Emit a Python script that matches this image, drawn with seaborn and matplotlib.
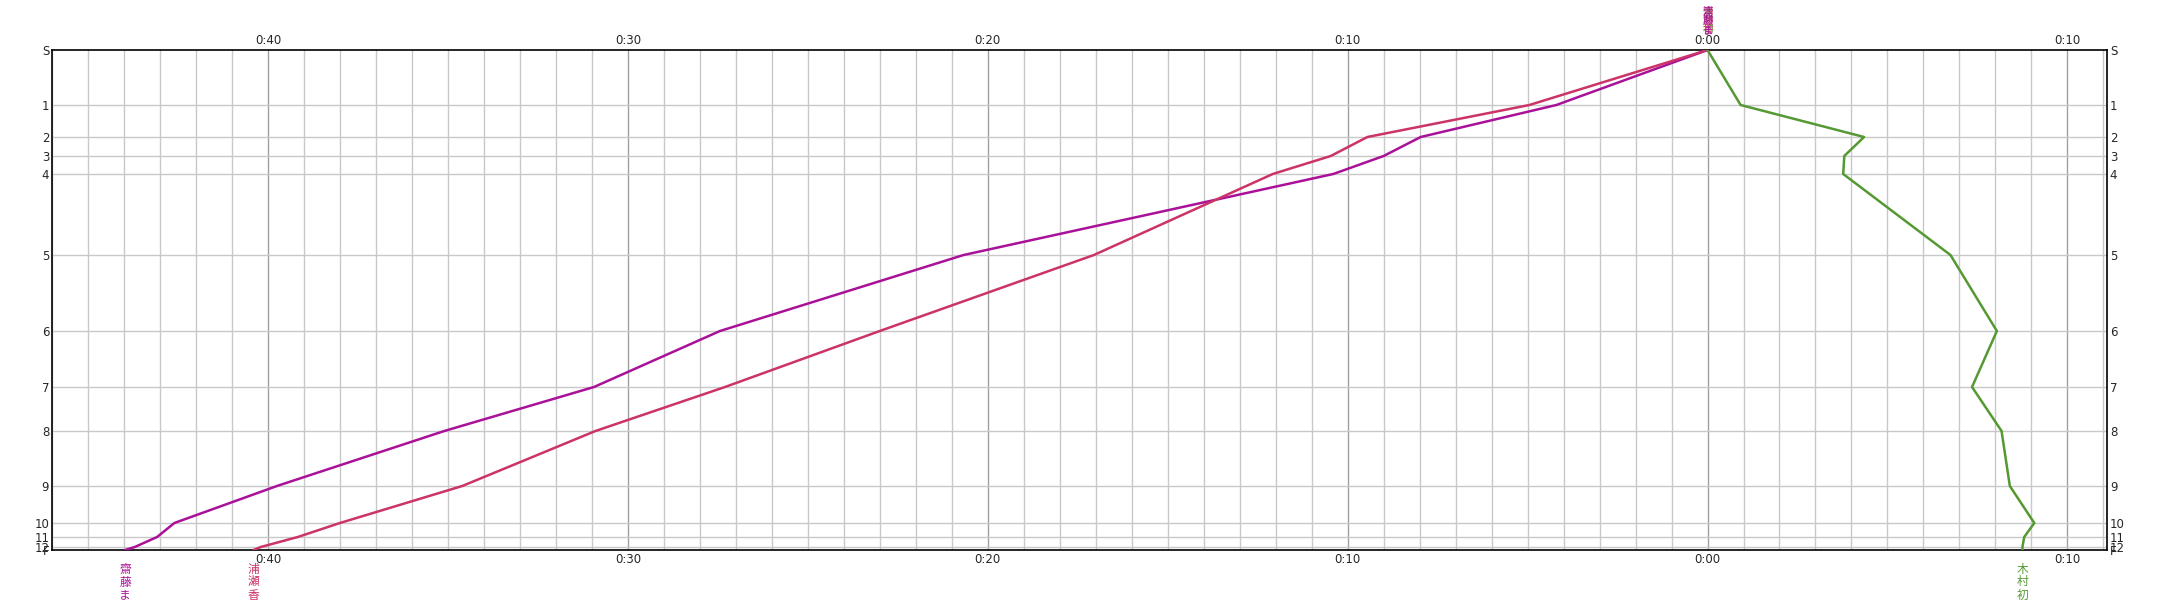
import matplotlib
matplotlib.use("Agg")
import matplotlib.pyplot as plt
import seaborn as sns
import pandas as pd
from matplotlib.ticker import FixedLocator, FuncFormatter

# course: stations and their position along the course (top = start)
stations = ["S", "1", "2", "3", "4", "5", "6", "7", "8", "9", "10", "11", "12", "F"]
station_pos = [0, 55, 87, 106, 124, 205, 281, 337, 381, 436, 473, 487, 497, 500]

runners = ["齋藤ま", "浦瀬香", "木村初"]
colors = ["#aa1199", "#cc3366", "#559933"]

# time difference in minutes at each station (negative = behind)
saito = [0, -4.2, -7.97, -9.0, -10.4, -20.67, -27.44, -30.94, -35.1, -39.75,
         -42.6, -43.08, -43.7, -43.97]
urase = [0, -4.95, -9.45, -10.47, -12.08, -17.05, -23.0, -27.3, -30.9, -34.6,
         -38.0, -39.17, -40.2, -40.4]
kimura = [0, 0.92, 4.35, 3.8, 3.77, 6.75, 8.04, 7.35, 8.17, 8.4,
          9.08, 8.8, 8.75, 8.75]

rows = []
for name, diffs in zip(runners, [saito, urase, kimura]):
    for st, pos, d in zip(stations, station_pos, diffs):
        rows.append({"runner": name, "station": st, "pos": pos, "diff": d})
df = pd.DataFrame(rows)

sns.set_style("white")
plt.rcParams["font.family"] = ["Noto Sans CJK JP", "DejaVu Sans"]

fig = plt.figure(figsize=(21.59, 6.0), dpi=100)
ax = fig.add_axes([52 / 2159, 50 / 600, 2055 / 2159, 500 / 600])

xmin, xmax = -46, 11.1
major = [-40, -30, -20, -10, 0, 10]
minor = [m for m in range(-46, 12) if m % 10 != 0]

# grid first so lines sit on top
for m in minor:
    ax.axvline(m, color="#c8c8c8", lw=1.0, zorder=0)
for m in major:
    ax.axvline(m, color="#a0a0a0", lw=1.0, zorder=0)
for p in station_pos[1:-1]:
    ax.axhline(p, color="#c8c8c8", lw=1.0, zorder=0)

sns.lineplot(data=df, x="diff", y="pos", hue="runner", palette=dict(zip(runners, colors)),
             sort=False, estimator=None, legend=False, linewidth=1.8, ax=ax, zorder=3)

ax.set_xlim(xmin, xmax)
ax.set_ylim(500, 0)
ax.set_xlabel("")
ax.set_ylabel("")

ax.xaxis.set_major_locator(FixedLocator(major))
ax.xaxis.set_major_formatter(FuncFormatter(lambda v, p: "0:%02d" % abs(round(v))))
ax.yaxis.set_major_locator(FixedLocator(station_pos))
ax.set_yticklabels(stations)

ax.tick_params(axis="x", which="both", top=True, bottom=True, labeltop=True,
               labelbottom=True, length=0, pad=2, labelsize=8.5)
ax.tick_params(axis="y", which="both", left=False, right=False, labelleft=True,
               labelright=True, length=0, pad=2, labelsize=8.5)
for lab in ax.get_xticklabels() + ax.get_yticklabels():
    lab.set_family("DejaVu Sans")

for s in ax.spines.values():
    s.set_visible(True)
    s.set_color("black")
    s.set_linewidth(1.2)

# runner names: start labels on top, finish labels below
for name, col, diffs in list(zip(runners, colors, [saito, urase, kimura]))[::-1]:
    ax.annotate("\n".join(name), xy=(diffs[0], 1.03), xycoords=("data", "axes fraction"),
                ha="center", va="bottom", color=col, fontsize=7.5, linespacing=0.9,
                annotation_clip=False)
for name, col, diffs in zip(runners, colors, [saito, urase, kimura]):
    ax.annotate("\n".join(name), xy=(diffs[-1], -0.025), xycoords=("data", "axes fraction"),
                ha="center", va="top", color=col, fontsize=8.5, linespacing=1.0,
                annotation_clip=False)

fig.savefig("out.png", dpi=100)
